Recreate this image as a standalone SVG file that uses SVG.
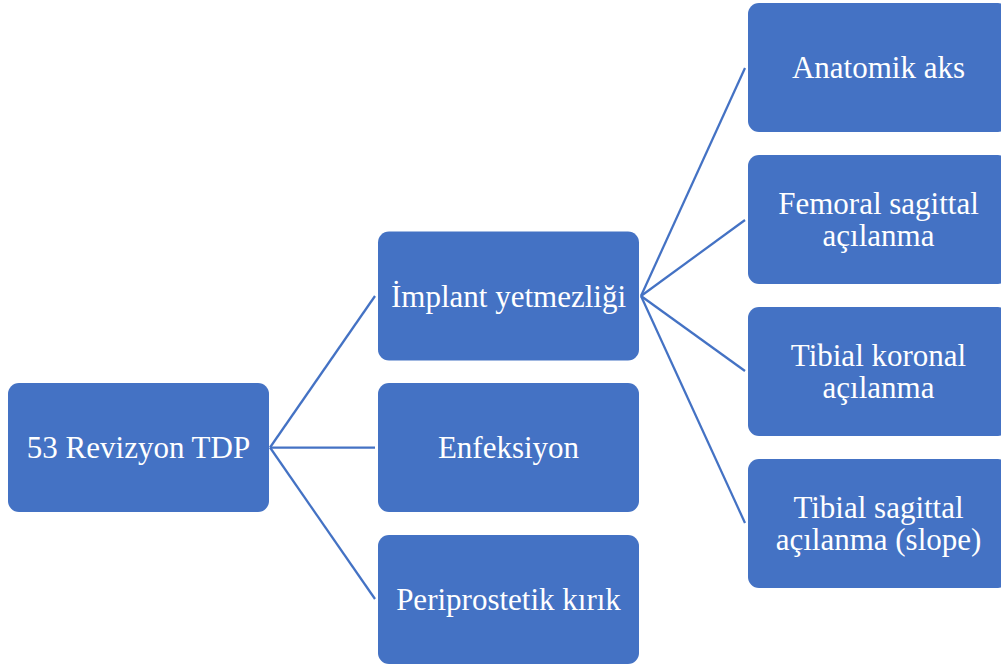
<svg xmlns="http://www.w3.org/2000/svg" width="1001" height="666" viewBox="0 0 1001 666">
<style>
.box{fill:#4472C4;}
.lbl{fill:#FFFFFF;font-size:31px;text-anchor:middle;}
.conn line{stroke:#4472C4;stroke-width:2.25;fill:none;}
</style>
<rect width="1001" height="666" fill="#FFFFFF"/>
<g id="connectors" class="conn">
<line x1="270" y1="447.5" x2="375" y2="296"/>
<line x1="270" y1="447.5" x2="375" y2="447.5"/>
<line x1="270" y1="447.5" x2="375" y2="599"/>
<line x1="641" y1="296" x2="745" y2="68"/>
<line x1="641" y1="296" x2="745" y2="220"/>
<line x1="641" y1="296" x2="745" y2="371"/>
<line x1="641" y1="296" x2="745" y2="523"/>
</g>
<g font-family="Liberation Serif, Tinos, Times New Roman, DejaVu Serif, serif">
<g id="root">
<rect class="box" x="8" y="383" width="261" height="129" rx="11"/>
<text class="lbl" x="138.5" y="458">53 Revizyon TDP</text>
</g>
<g id="implant">
<rect class="box" x="378" y="231.5" width="261" height="129" rx="11"/>
<text class="lbl" x="508.5" y="306.5">İmplant yetmezliği</text>
</g>
<g id="enfeksiyon">
<rect class="box" x="378" y="383" width="261" height="129" rx="11"/>
<text class="lbl" x="508.5" y="458">Enfeksiyon</text>
</g>
<g id="periprostetik">
<rect class="box" x="378" y="535" width="261" height="129" rx="11"/>
<text class="lbl" x="508.5" y="610">Periprostetik kırık</text>
</g>
<g id="anatomik">
<rect class="box" x="748" y="3" width="261" height="129" rx="11"/>
<text class="lbl" x="878.5" y="78">Anatomik aks</text>
</g>
<g id="femoral">
<rect class="box" x="748" y="155" width="261" height="129" rx="11"/>
<text class="lbl" x="878.5" y="213.5">Femoral sagittal</text>
<text class="lbl" x="878.5" y="245.5">açılanma</text>
</g>
<g id="tibialkoronal">
<rect class="box" x="748" y="307" width="261" height="129" rx="11"/>
<text class="lbl" x="878.5" y="365.5">Tibial koronal</text>
<text class="lbl" x="878.5" y="397.5">açılanma</text>
</g>
<g id="tibialsagittal">
<rect class="box" x="748" y="459" width="261" height="129" rx="11"/>
<text class="lbl" x="878.5" y="517.5">Tibial sagittal</text>
<text class="lbl" x="878.5" y="549.5">açılanma (slope)</text>
</g>
</g>
</svg>
